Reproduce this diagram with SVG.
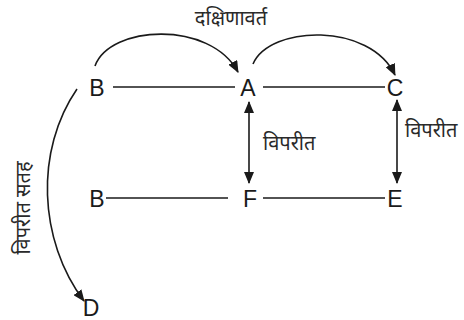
<svg xmlns="http://www.w3.org/2000/svg" width="464" height="320" viewBox="0 0 464 320">
<defs>
<marker id="ah" markerUnits="userSpaceOnUse" markerWidth="12" markerHeight="10" refX="11" refY="5" orient="auto-start-reverse"><path d="M0,0 L12,5 L0,10 z" fill="#1a1a1a"/></marker>
<style>
.lbl{font-family:"Liberation Sans",Arial,sans-serif;font-size:23px;fill:#1a1a1a;text-anchor:middle}
.hi{font-family:"Noto Sans Devanagari","Noto Sans","Lohit Devanagari",sans-serif;font-size:20px;fill:#2a2a2a}
.ln{stroke:#1a1a1a;stroke-width:1.6;fill:none}
</style>
</defs>
<rect width="464" height="320" fill="#fff"/>
<g id="connectors">
<line class="ln" x1="113" y1="87" x2="235" y2="87"/>
<line class="ln" x1="263" y1="87" x2="385" y2="87"/>
<line class="ln" x1="106" y1="198" x2="228" y2="198"/>
<line class="ln" x1="263" y1="198" x2="385" y2="198"/>
<path class="ln" d="M95,66 C110,25 210,20 238,72" marker-end="url(#ah)"/>
<path class="ln" d="M253,64 C270,25 370,22 395,75" marker-end="url(#ah)"/>
<path class="ln" d="M77,89 C35,150 38,240 84,301" marker-end="url(#ah)"/>
<line class="ln" x1="249" y1="102" x2="249" y2="183" marker-start="url(#ah)" marker-end="url(#ah)"/>
<line class="ln" x1="397" y1="100" x2="397" y2="183" marker-start="url(#ah)" marker-end="url(#ah)"/>
</g>
<g id="B1"><text class="lbl" x="97" y="96">B</text></g>
<g id="A"><text class="lbl" x="248" y="96">A</text></g>
<g id="C"><text class="lbl" x="395" y="96">C</text></g>
<g id="B2"><text class="lbl" x="97" y="207">B</text></g>
<g id="F"><text class="lbl" x="250" y="207">F</text></g>
<g id="E"><text class="lbl" x="395" y="207">E</text></g>
<g id="D"><text class="lbl" x="91" y="316">D</text></g>
<g id="labels">
<text class="hi" x="231" y="25" text-anchor="middle">दक्षिणावर्त</text>
<text class="hi" x="263" y="150">विपरीत</text>
<text class="hi" x="405" y="137">विपरीत</text>
<text class="hi" transform="translate(30,208) rotate(-90)" text-anchor="middle">विपरीत सतह</text>
</g>
</svg>
